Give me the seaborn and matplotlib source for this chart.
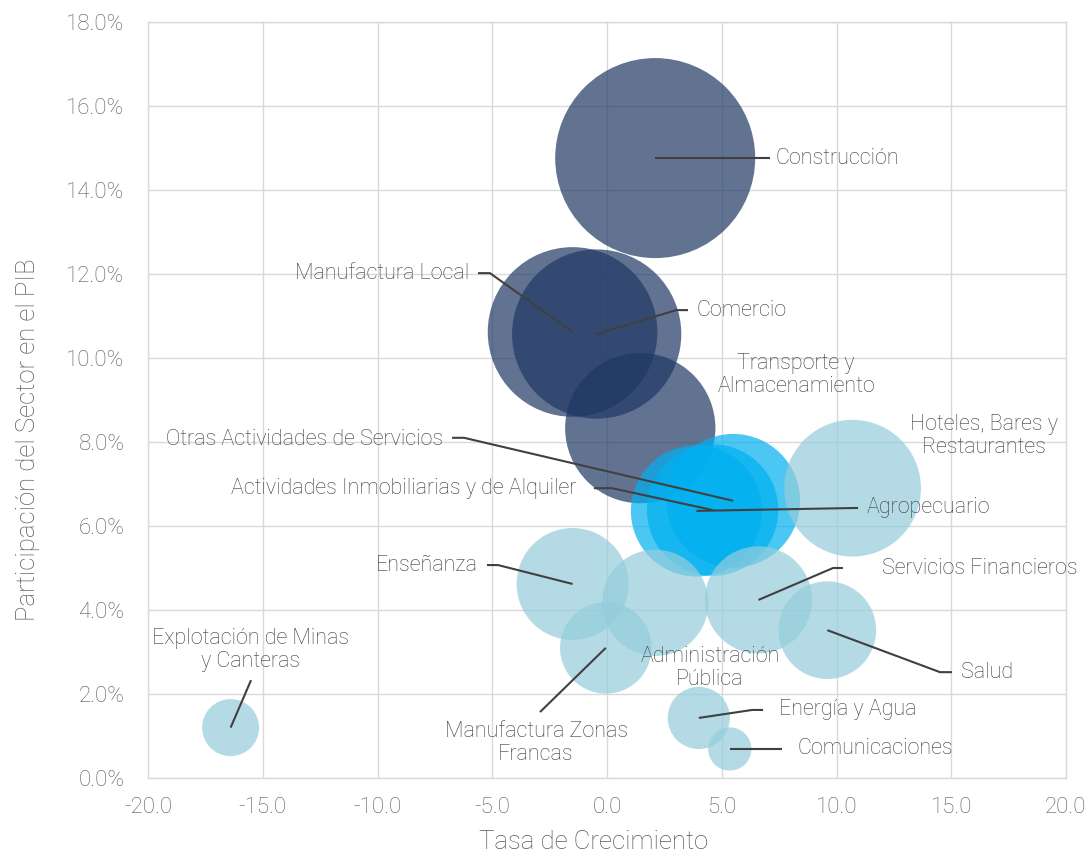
import numpy as np
import pandas as pd
import matplotlib
matplotlib.use("Agg")
import matplotlib.pyplot as plt
import seaborn as sns
from matplotlib.ticker import FuncFormatter

# ---------------- data ----------------
sectores = [
    "Construcción", "Manufactura Local", "Comercio", "Transporte y\nAlmacenamiento",
    "Otras Actividades de Servicios", "Actividades Inmobiliarias y de Alquiler", "Agropecuario",
    "Hoteles, Bares y\nRestaurantes", "Enseñanza", "Administración\nPública",
    "Manufactura Zonas\nFrancas", "Servicios Financieros", "Salud", "Energía y Agua",
    "Comunicaciones", "Explotación de Minas\ny Canteras",
]
crecimiento = [2.1, -1.5, -0.45, 1.45, 5.5, 4.6, 3.9, 10.7, -1.5, 2.1, -0.05, 6.6, 9.6, 4.0, 5.35, -16.4]
participacion = [14.76, 10.62, 10.57, 8.33, 6.60, 6.38, 6.36, 6.90, 4.62, 4.17, 3.10, 4.24, 3.52, 1.43, 0.69, 1.20]
grupo = ["A", "A", "A", "A", "B", "B", "B", "C", "C", "C", "C", "C", "C", "C", "C", "C"]

x_ticks = [-20, -15, -10, -5, 0, 5, 10, 15, 20]
y_ticks = [0, 2, 4, 6, 8, 10, 12, 14, 16, 18]

# ---------------- label layout (data coords) ----------------
label_layout = {
    "Construcción": (7.36, 14.74, "left", [(7.10, 14.76)]),
    "Manufactura Local": (-6.01, 12.02, "right", [(-5.10, 12.02), (-5.62, 12.02)]),
    "Comercio": (3.88, 11.14, "left", [(3.01, 11.14), (3.53, 11.14)]),
    "Transporte y\nAlmacenamiento": (8.24, 9.6, "center", []),
    "Otras Actividades de Servicios": (-7.15, 8.07, "right", [(-6.23, 8.10), (-6.75, 8.10)]),
    "Actividades Inmobiliarias y de Alquiler": (-1.35, 6.90, "right", [(0.22, 6.90), (-0.57, 6.90)]),
    "Agropecuario": (11.33, 6.43, "left", [(10.94, 6.43)]),
    "Hoteles, Bares y\nRestaurantes": (16.43, 8.14, "center", []),
    "Enseñanza": (-5.62, 5.07, "right", [(-4.75, 5.07), (-5.23, 5.07)]),
    "Administración\nPública": (4.49, 2.62, "center", []),
    "Manufactura Zonas\nFrancas": (-3.09, 0.83, "center", [(-2.92, 1.57)]),
    "Servicios Financieros": (11.98, 5.0, "left", [(9.85, 5.0), (10.28, 5.0)]),
    "Salud": (15.42, 2.52, "left", [(14.51, 2.52), (15.03, 2.52)]),
    "Energía y Agua": (7.49, 1.62, "left", [(6.32, 1.62), (6.80, 1.62)]),
    "Comunicaciones": (8.32, 0.71, "left", [(7.63, 0.69)]),
    "Explotación de Minas\ny Canteras": (-15.51, 3.05, "center", [(-15.51, 2.33)]),
}

df = pd.DataFrame({"sector": sectores, "x": crecimiento, "y": participacion, "grupo": grupo})

sns.set_theme(style="whitegrid")
plt.rcParams["font.family"] = ["Roboto", "DejaVu Sans"]
plt.rcParams["font.weight"] = "light"
plt.rcParams["axes.labelweight"] = "light"

W, H = 1091, 855
fig = plt.figure(figsize=(W / 100, H / 100), dpi=100)
ax = fig.add_axes([148 / W, 1 - 778 / H, (1066 - 148) / W, (778 - 22) / H])

palette = {"A": "#1F3864", "B": "#00B0F0", "C": "#94CDDB"}
k = 1405.0
ymin, ymax = min(participacion), max(participacion)
sns.scatterplot(
    data=df, x="x", y="y", hue="grupo", palette=palette, size="y",
    sizes=(k * ymin, k * ymax), size_norm=(ymin, ymax), alpha=0.7,
    linewidth=0, legend=False, ax=ax, zorder=3,
)

ax.set_xlim(x_ticks[0], x_ticks[-1])
ax.set_ylim(y_ticks[0], y_ticks[-1])
ax.set_xticks(x_ticks)
ax.set_yticks(y_ticks)
ax.xaxis.set_major_formatter(FuncFormatter(lambda v, p: f"{v:.1f}"))
ax.yaxis.set_major_formatter(FuncFormatter(lambda v, p: f"{v:.1f}%"))
ax.grid(True, color="#D9D9D9", linewidth=1.0)
ax.set_axisbelow(True)
for s in ax.spines.values():
    s.set_color("#D9D9D9")
    s.set_linewidth(1.0)
ax.tick_params(axis="both", length=0, labelsize=16, labelcolor="#595959")
ax.tick_params(axis="x", pad=14)
ax.tick_params(axis="y", pad=17)
ax.set_xlabel("Tasa de Crecimiento", fontsize=18.5, color="#595959", fontweight="light")
ax.set_ylabel("Participación del Sector en el PIB", fontsize=18.5, color="#595959", fontweight="light")
ax.xaxis.set_label_coords((594 - 148) / (1066 - 148), -(842 - 778) / (778 - 22))
ax.yaxis.set_label_coords(-(148 - 28) / (1066 - 148), (778 - 440) / (778 - 22))
ax.xaxis.label.set_va("center")
ax.yaxis.label.set_va("center")

for sec, xv, yv in zip(sectores, crecimiento, participacion):
    tx, ty, ha, path = label_layout[sec]
    if path:
        xs = [xv] + [p[0] for p in path]
        ys = [yv] + [p[1] for p in path]
        ax.plot(xs, ys, color="#404040", linewidth=1.5, zorder=4, solid_capstyle="butt")
    ax.text(tx, ty, sec, ha=ha, va="center", fontsize=15.5, color="#3A3A3A",
            multialignment="center", linespacing=1.15, zorder=5)

fig.savefig("out.png", dpi=100)
